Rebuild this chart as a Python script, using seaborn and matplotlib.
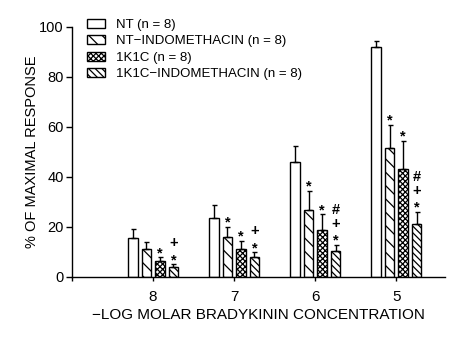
import numpy as np
import pandas as pd
import matplotlib
matplotlib.use("Agg")
import matplotlib.pyplot as plt
import seaborn as sns

# Bradykinin concentrations (-log molar)
concentrations = ["8", "7", "6", "5"]
groups = ["NT (n = 8)", "NT\u2212INDOMETHACIN (n = 8)",
          "1K1C (n = 8)", "1K1C\u2212INDOMETHACIN (n = 8)"]

# Mean % of maximal response
nt_mean = [15.6, 23.3, 46.0, 91.8]
nt_indo_mean = [11.0, 15.7, 26.5, 51.4]
k1c_mean = [6.1, 11.1, 18.5, 43.2]
k1c_indo_mean = [3.9, 8.0, 10.4, 21.0]

# Standard errors
nt_sem = [3.5, 5.2, 6.4, 2.6]
nt_indo_sem = [3.0, 4.3, 7.8, 9.4]
k1c_sem = [1.7, 3.3, 6.5, 11.1]
k1c_indo_sem = [1.1, 1.8, 2.3, 4.9]

# Significance symbols, stacked bottom to top
nt_marks = ["", "", "", ""]
nt_indo_marks = ["", "*", "*", "*"]
k1c_marks = ["*", "*", "*", "*"]
k1c_indo_marks = ["*+", "*+", "*+#", "*+#"]

means = [nt_mean, nt_indo_mean, k1c_mean, k1c_indo_mean]
sems = [nt_sem, nt_indo_sem, k1c_sem, k1c_indo_sem]
marks = [nt_marks, nt_indo_marks, k1c_marks, k1c_indo_marks]
hatches = ["", "\\\\", "xxxxx", "\\\\\\\\"]

# A lower dpi gives a finer hatch spacing; S rescales point sizes to match.
DPI = 80
S = 100 / DPI

# baseline offsets (points) of each symbol above the error bar
sym_offset = {"*": 0.0, "+": 12.3, "#": 22.4}

df = pd.DataFrame({
    "conc": np.tile(concentrations, len(groups)),
    "group": np.repeat(groups, len(concentrations)),
    "value": np.concatenate(means),
})

sns.set_style("ticks", {"axes.edgecolor": "black", "text.color": "black",
                        "axes.labelcolor": "black", "xtick.color": "black",
                        "ytick.color": "black"})
plt.rcParams["font.family"] = ["Liberation Sans", "DejaVu Sans"]
plt.rcParams["hatch.linewidth"] = 0.9 * S

fig = plt.figure(figsize=(450 / DPI, 339 / DPI), dpi=DPI)
ax = fig.add_axes([0.16, 0.184, 0.829, 0.737])

sns.barplot(data=df, x="conc", y="value", hue="group",
            order=concentrations, hue_order=groups,
            palette={g: "white" for g in groups},
            edgecolor="black", linewidth=1.0 * S,
            width=0.667, gap=0.3, errorbar=None, legend=False,
            saturation=1, ax=ax)

for cont, hatch, sem, mk in zip(ax.containers, hatches, sems, marks):
    xs, ys = [], []
    for bar in cont:
        bar.set_hatch(hatch)
        xs.append(bar.get_x() + bar.get_width() / 2)
        ys.append(bar.get_height())
    ax.errorbar(xs, ys, yerr=[np.zeros(len(sem)), sem], fmt="none",
                ecolor="black", elinewidth=1.0 * S, capsize=1.8 * S,
                capthick=1.0 * S, zorder=3)
    for x, y, s, m in zip(xs, ys, sem, mk):
        for sym in m:
            ax.annotate(sym, (x, y + s), xytext=(0, sym_offset[sym] * S),
                        textcoords="offset points", ha="center",
                        va="baseline", fontsize=10.5 * S, fontweight="bold")

ax.set_ylim(0, 100)
ax.set_xlim(-1, 3.6)
ax.set_yticks([0, 20, 40, 60, 80, 100])
ax.set_xticks([-1, 0, 1, 2, 3])
ax.set_xticklabels([""] + concentrations, fontsize=11 * S)
ax.tick_params(axis="y", labelsize=10.5 * S, length=4 * S, width=1.0 * S,
               pad=2 * S)
ax.tick_params(axis="x", length=3 * S, width=1.0 * S, pad=6.5 * S)
for side in ["top", "right"]:
    ax.spines[side].set_visible(False)
for side in ["left", "bottom"]:
    ax.spines[side].set_linewidth(1.0 * S)

ax.set_xlabel("\u2212LOG MOLAR BRADYKININ CONCENTRATION", fontsize=11 * S,
              labelpad=3 * S)
ax.set_ylabel("% OF MAXIMAL RESPONSE", fontsize=10.5 * S, labelpad=0)

ax.legend(handles=list(ax.containers), labels=groups, loc="upper left",
          bbox_to_anchor=(0.04, 1.032), frameon=False, fontsize=9.5 * S,
          handlelength=1.35, handleheight=0.68, handletextpad=0.85,
          labelspacing=0.33, borderaxespad=0, borderpad=0)

fig.savefig("out.png", dpi=DPI)
